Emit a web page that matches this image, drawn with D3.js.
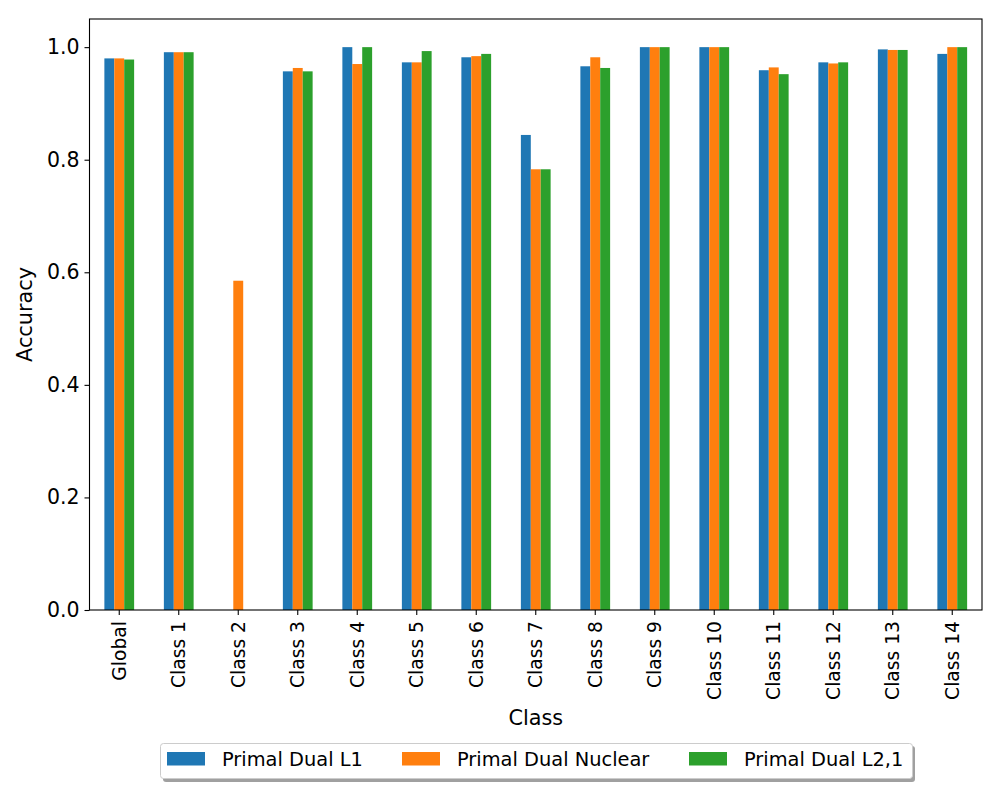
<!DOCTYPE html>
<html>
<head>
<meta charset="utf-8">
<script src="https://cdn.jsdelivr.net/npm/d3@7"></script>
<style>
  body { margin: 0; background: #fff; }
  text { font-family: "DejaVu Sans", sans-serif; fill: #000; }
</style>
</head>
<body>
<div id="chart"></div>
<script>
// Accuracy per class
var categories = ["Global", "Class 1", "Class 2", "Class 3", "Class 4", "Class 5", "Class 6",
                  "Class 7", "Class 8", "Class 9", "Class 10", "Class 11", "Class 12", "Class 13", "Class 14"];
var seriesNames = ["Primal Dual L1", "Primal Dual Nuclear", "Primal Dual L2,1"];
var seriesColors = ["#1f77b4", "#ff7f0e", "#2ca02c"];
var dualL1      = [0.980, 0.991, 0.000, 0.957, 1.000, 0.973, 0.982, 0.844, 0.966, 1.000, 1.000, 0.959, 0.973, 0.996, 0.988];
var dualNuclear = [0.980, 0.991, 0.585, 0.963, 0.970, 0.973, 0.984, 0.783, 0.982, 1.000, 1.000, 0.964, 0.971, 0.995, 1.000];
var dualL21     = [0.978, 0.991, 0.000, 0.957, 1.000, 0.993, 0.988, 0.783, 0.963, 1.000, 1.000, 0.952, 0.973, 0.995, 1.000];
var yTicks = [0, 0.2, 0.4, 0.6, 0.8, 1.0];

var W = 1000, H = 800;
var margin = { left: 89.5, right: 982, top: 19, bottom: 610 };

var svg = d3.select('#chart')
	.append('svg')
	.attr('width', W)
	.attr('height', H);

var x0 = d3.scaleBand()
	.domain(categories)
	.range([margin.left, margin.right])
	.paddingInner(0.5)
	.paddingOuter(0.25);

var x1 = d3.scaleBand()
	.domain(seriesNames)
	.range([0, x0.bandwidth()]);

var y = d3.scaleLinear()
	.domain([0, 1.05])
	.range([margin.bottom, margin.top]);

var allSeries = [dualL1, dualNuclear, dualL21];

// Bars
allSeries.forEach(function (vals, s) {
	svg.append('g')
		.selectAll('rect')
		.data(vals)
		.enter()
		.append('rect')
		.attr('x', function (d, i) { return x0(categories[i]) + x1(seriesNames[s]); })
		.attr('y', function (d) { return y(d); })
		.attr('width', x1.bandwidth())
		.attr('height', function (d) { return y(0) - y(d); })
		.attr('fill', seriesColors[s]);
});

// Axes
var yAxis = svg.append('g')
	.attr('transform', 'translate(' + margin.left + ',0)')
	.call(d3.axisLeft(y).tickValues(yTicks).tickFormat(d3.format('.1f')).tickSize(5).tickPadding(5));
yAxis.select('.domain').remove();
yAxis.selectAll('text').style('font-size', '20.5px');
yAxis.selectAll('line').attr('stroke', '#000').attr('stroke-width', 1.1);

var xAxis = svg.append('g')
	.attr('transform', 'translate(0,' + margin.bottom + ')')
	.call(d3.axisBottom(x0).tickSize(5).tickSizeOuter(0));
xAxis.select('.domain').remove();
xAxis.selectAll('line').attr('stroke', '#000').attr('stroke-width', 1.1);
xAxis.selectAll('text')
	.style('font-size', '18.7px')
	.attr('transform', 'rotate(-90)')
	.attr('x', -11)
	.attr('y', 0)
	.attr('dy', '0.35em')
	.attr('text-anchor', 'end');

// Frame
svg.append('rect')
	.attr('x', margin.left)
	.attr('y', margin.top)
	.attr('width', margin.right - margin.left)
	.attr('height', margin.bottom - margin.top)
	.attr('fill', 'none')
	.attr('stroke', '#000')
	.attr('stroke-width', 1.1);

// Axis labels
svg.append('text')
	.attr('x', (margin.left + margin.right) / 2)
	.attr('y', 725)
	.attr('text-anchor', 'middle')
	.style('font-size', '20.8px')
	.text('Class');

svg.append('text')
	.attr('transform', 'translate(32,' + ((margin.top + margin.bottom) / 2) + ') rotate(-90)')
	.attr('text-anchor', 'middle')
	.style('font-size', '20.8px')
	.text('Accuracy');

// Legend
var lg = svg.append('g');
lg.append('rect')
	.attr('x', 163).attr('y', 746)
	.attr('width', 752).attr('height', 36)
	.attr('rx', 3)
	.attr('fill', '#888')
	.attr('opacity', 0.8);
lg.append('rect')
	.attr('x', 160.5).attr('y', 743.5)
	.attr('width', 752).attr('height', 35)
	.attr('rx', 3)
	.attr('fill', '#fff')
	.attr('stroke', '#ccc')
	.attr('stroke-width', 1);

var legendX = [167, 402, 689];
seriesNames.forEach(function (name, s) {
	lg.append('rect')
		.attr('x', legendX[s]).attr('y', 752)
		.attr('width', 38).attr('height', 13.5)
		.attr('fill', seriesColors[s]);
	lg.append('text')
		.attr('x', legendX[s] + 55)
		.attr('y', 766)
		.style('font-size', '19.4px')
		.text(name);
});
</script>
</body>
</html>
